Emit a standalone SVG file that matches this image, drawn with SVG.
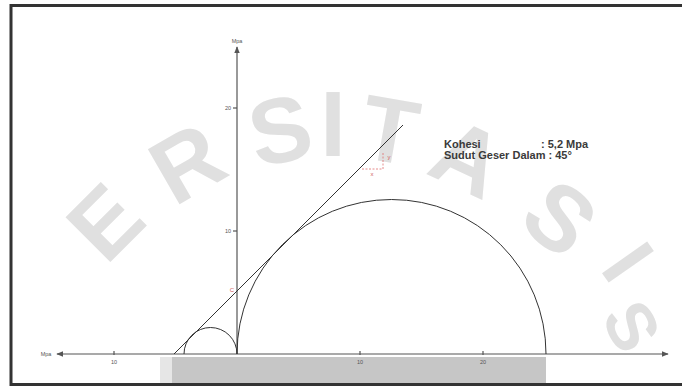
<svg xmlns="http://www.w3.org/2000/svg" width="682" height="387" viewBox="0 0 682 387">
<style>
.wm{font-family:"Liberation Sans",Arial,sans-serif;font-weight:bold;font-size:92px;fill:#e0e0e0;text-anchor:middle;dominant-baseline:central}
.ax{stroke:#555;stroke-width:1.2;fill:none}
.cv{stroke:#333;stroke-width:1;fill:none}
.tk{font-family:"Liberation Sans",Arial,sans-serif;font-size:5.5px;fill:#555;text-anchor:middle}
.info{font-family:"Liberation Sans",Arial,sans-serif;font-size:11px;font-weight:bold;fill:#3a3a3a}
.red{stroke:#e07070;stroke-width:0.8;stroke-dasharray:2 1.5;fill:none}
.rt{font-family:"Liberation Sans",Arial,sans-serif;font-size:6px;fill:#d06060;text-anchor:middle}
</style>
<defs>
<marker id="ah" viewBox="0 0 10 10" refX="9" refY="5" markerWidth="6" markerHeight="6" orient="auto">
<path d="M0,1 L10,5 L0,9 Z" fill="#555"/>
</marker>
</defs>
<rect width="682" height="387" fill="#ffffff"/>
<g id="watermark">
<text class="wm" transform="translate(105,222) rotate(-45)">E</text>
<text class="wm" transform="translate(187,163) rotate(-30)">R</text>
<text class="wm" transform="translate(280,130) rotate(-12)">S</text>
<text class="wm" transform="translate(333,124)">I</text>
<text class="wm" transform="translate(390,130) rotate(10)">T</text>
<text class="wm" transform="translate(468,158) rotate(25)">A</text>
<text class="wm" transform="translate(560,218) rotate(40)">S</text>
<text class="wm" style="font-size:80px" transform="translate(628,262) rotate(55)">I</text>
<text class="wm" style="font-size:68px" transform="translate(632,326) rotate(62)">S</text>
</g>
<g id="base">
<rect x="160" y="357" width="12" height="27" fill="#e6e6e6"/>
<rect x="172" y="357" width="374" height="27" fill="#c6c6c6"/>
</g>
<g id="connectors">
<line class="ax" x1="237" y1="354" x2="237" y2="47" marker-end="url(#ah)"/>
<line class="ax" x1="237" y1="354" x2="57" y2="354" marker-end="url(#ah)"/>
<line class="ax" x1="237" y1="354" x2="668" y2="354" marker-end="url(#ah)"/>
<line class="ax" x1="114" y1="351" x2="114" y2="355"/>
<line class="ax" x1="360" y1="351" x2="360" y2="355"/>
<line class="ax" x1="483" y1="351" x2="483" y2="355"/>
<line class="ax" x1="233" y1="108" x2="237" y2="108"/>
<line class="ax" x1="233" y1="231" x2="237" y2="231"/>
<line class="cv" x1="174" y1="354" x2="403" y2="125"/>
<path class="cv" d="M184,354 A26.5,26.5 0 0 1 237,354"/>
<path class="cv" d="M237,354 A154.5,154.5 0 0 1 546,354"/>
<path class="red" d="M362,169 H383 V152"/>
</g>
<g id="labels">
<text class="tk" x="237" y="43">Mpa</text>
<text class="tk" x="46" y="356">Mpa</text>
<text class="tk" x="114" y="364">10</text>
<text class="tk" x="360" y="364">10</text>
<text class="tk" x="483" y="364">20</text>
<text class="tk" x="228" y="110">20</text>
<text class="tk" x="228" y="233">10</text>
<text class="rt" x="232" y="292">C</text>
<text class="rt" x="389" y="159">y</text>
<text class="rt" x="372" y="176">x</text>
</g>
<g id="info">
<text class="info" x="444" y="148">Kohesi</text>
<text class="info" x="541" y="148">: 5,2 Mpa</text>
<text class="info" x="444" y="159">Sudut Geser Dalam : 45°</text>
</g>
<rect x="11" y="5.5" width="680" height="379" fill="none" stroke="#333" stroke-width="3"/>
</svg>
